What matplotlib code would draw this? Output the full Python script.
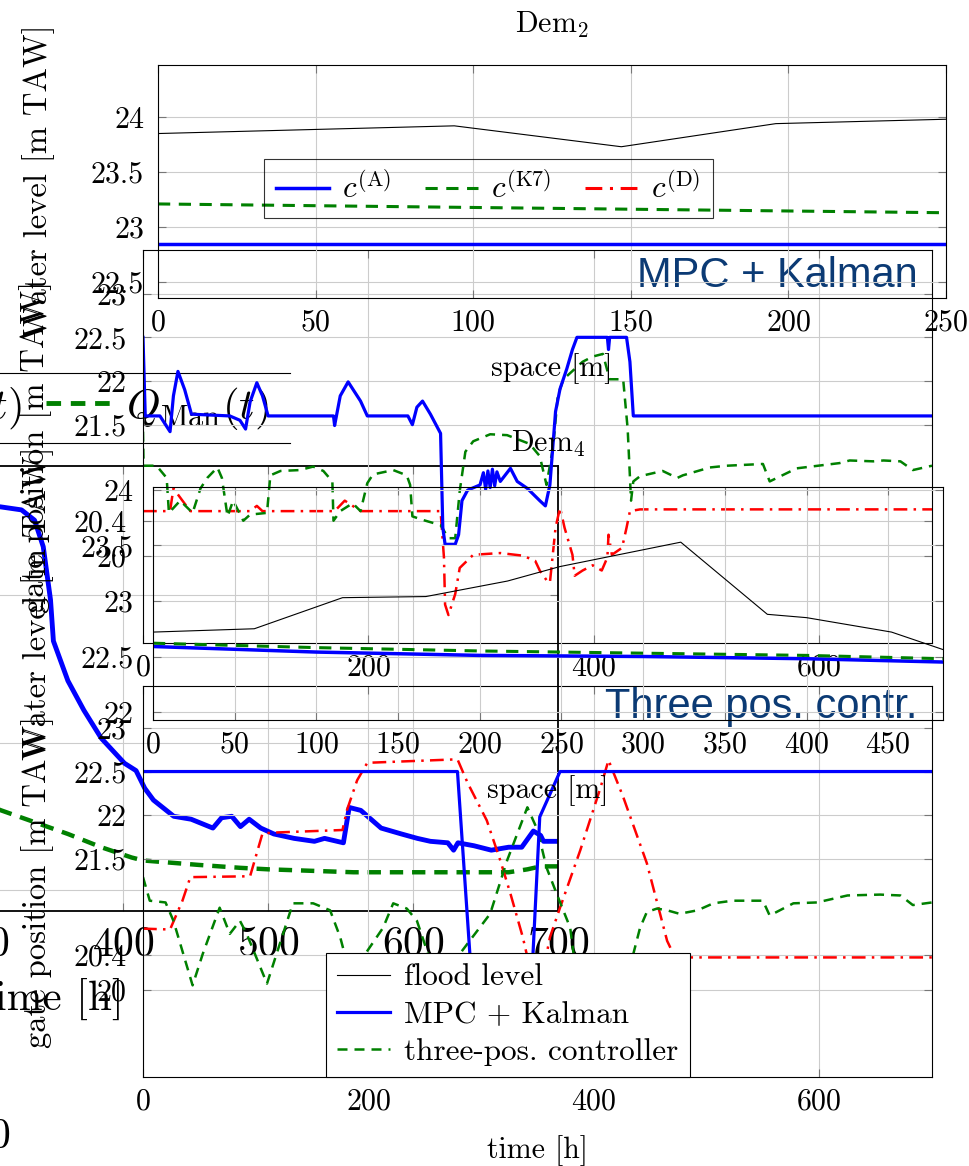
import matplotlib
matplotlib.use('Agg')
import matplotlib.pyplot as plt
from matplotlib.lines import Line2D

plt.rcParams['font.family'] = 'serif'
plt.rcParams['font.serif'] = ['cmr10']
plt.rcParams['mathtext.fontset'] = 'cm'
plt.rcParams['axes.formatter.use_mathtext'] = True

# ---- Dem2 (space profile) ----
dem2_s = [0, 94, 147, 196, 250]
dem2_flood = [23.85, 23.92, 23.73, 23.94, 23.98]
dem2_s_c = [0, 125, 250]
dem2_cA = [22.85, 22.85, 22.85]
dem2_cK7 = [23.21, 23.17, 23.13]

# ---- Dem4 (space profile) ----
dem4_s = [0, 62, 116, 167, 217, 249, 323, 376, 400, 452, 484]
dem4_flood = [22.72, 22.75, 23.03, 23.04, 23.18, 23.31, 23.53, 22.88, 22.85, 22.72, 22.56]
dem4_s_c = [0, 100, 200, 300, 400, 484]
dem4_cA = [22.59, 22.54, 22.51, 22.50, 22.48, 22.45]
dem4_cK7 = [22.62, 22.58, 22.55, 22.53, 22.51, 22.48]

# ---- panel "MPC + Kalman" (time) ----
mpc_t = [0, 2, 15, 24, 27, 31, 37, 43, 77, 86, 91, 95, 101, 106, 111, 169, 170, 175, 182, 193,
         199, 235, 239, 243, 248, 255, 264, 266, 268, 277, 280, 283, 288, 299, 302, 304, 306, 308,
         310, 312, 314, 317, 326, 332, 341, 352, 357, 361, 366, 370, 376, 381, 385, 412, 413, 414,
         429, 432, 435, 700]
mpc_level = [22.5, 21.6, 21.6, 21.42, 21.83, 22.11, 21.9, 21.62, 21.6, 21.55, 21.45, 21.76, 21.98, 21.83, 21.6, 21.6, 21.49, 21.83, 21.99, 21.77,
             21.6, 21.6, 21.5, 21.7, 21.77, 21.62, 21.4, 20.32, 20.13, 20.13, 20.24, 20.63, 20.75, 20.81, 20.95, 20.76, 20.97, 20.78,
             20.99, 20.8, 20.96, 20.85, 21.0, 20.85, 20.77, 20.63, 20.57, 20.81, 21.65, 21.91, 22.14, 22.36, 22.5, 22.5, 22.36, 22.5,
             22.5, 22.22, 21.6, 21.6]
mpc_t3 = [0, 0.5, 12, 21, 23, 33, 44, 51, 57, 66, 70, 75, 80, 89, 95, 110, 113, 122, 139, 151, 160, 168, 169,
          175, 186, 193, 199, 204, 222, 234, 237, 239, 248, 264, 271, 277, 281, 286, 293, 308, 323, 343,
          352, 358, 364, 368, 373, 390, 399, 408, 414, 426, 430, 433, 435, 441, 461, 474, 479, 503, 518,
          550, 556, 580, 618, 627, 648, 657, 672, 683, 700]
mpc_three = [21.42, 21.03, 21.03, 20.89, 20.49, 20.63, 20.49, 20.77, 20.89, 21.01, 20.89, 20.45, 20.63, 20.4, 20.47, 20.49, 20.92, 20.97, 20.98, 21.02, 20.97, 20.85, 20.4,
             20.51, 20.6, 20.51, 20.83, 20.93, 20.98, 20.92, 20.81, 20.45, 20.41, 20.35, 20.2, 20.2, 20.74, 21.19, 21.31, 21.39, 21.38, 21.28,
             21.14, 20.81, 21.26, 21.83, 22.02, 22.22, 22.28, 22.31, 22.02, 22.02, 21.45, 20.63, 20.85, 20.91, 20.97, 20.89, 20.92, 21.01, 21.03,
             21.05, 20.85, 21.0, 21.06, 21.09, 21.08, 21.09, 21.08, 20.98, 21.03]
mpc_tD = [0, 24, 27, 35, 42, 95, 101, 106, 170, 179, 193, 264, 267, 268, 271, 277, 281, 293, 317, 337,
          348, 352, 358, 361, 366, 370, 374, 381, 383, 390, 399, 407, 412, 413, 416, 425, 429, 432, 441, 700]
mpc_D = [20.51, 20.51, 20.77, 20.63, 20.51, 20.51, 20.57, 20.51, 20.51, 20.63, 20.51, 20.51, 19.98, 19.44, 19.32, 19.56, 19.86, 20.01, 20.03, 20.0,
         19.94, 19.83, 19.72, 19.69, 20.32, 20.55, 20.32, 20.01, 19.77, 19.83, 19.89, 19.83, 19.98, 20.24, 20.01, 20.09, 20.32, 20.51, 20.53, 20.53]

# ---- panel "Three pos. contr." (time) ----
tp_t = [0, 279, 290, 296, 339, 346, 352, 370, 700]
tp_level = [22.5, 22.5, 20.41, 19.3, 19.3, 20.41, 21.98, 22.5, 22.5]
tp_t3 = [0, 6, 20, 27, 44, 53, 68, 77, 86, 92, 110, 128, 133, 151, 166, 175, 184, 213, 222, 234, 243, 255,
         268, 281, 308, 323, 341, 350, 358, 367, 379, 382, 405, 435, 441, 447, 456, 465, 476, 492, 506, 523,
         550, 556, 577, 598, 625, 654, 672, 683, 700]
tp_three = [21.29, 21.02, 21.0, 20.79, 20.05, 20.41, 20.94, 20.64, 20.79, 20.64, 20.07, 20.79, 20.99, 20.99, 20.91, 20.6, 20.16, 20.71, 20.99, 20.93, 20.79, 20.33,
            20.1, 20.41, 20.87, 21.48, 22.09, 21.83, 21.4, 21.1, 20.71, 20.41, 19.87, 20.41, 20.71, 20.89, 20.93, 20.91, 20.87, 20.91, 20.99, 21.02,
            21.02, 20.85, 20.99, 21.0, 21.08, 21.09, 21.08, 20.97, 21.0]
tp_tD = [0, 24, 35, 42, 95, 106, 115, 177, 181, 190, 199, 279, 288, 305, 317, 326, 337, 350, 361, 370,
         388, 406, 413, 426, 447, 465, 472, 700]
tp_D = [20.7, 20.69, 21.02, 21.29, 21.3, 21.79, 21.8, 21.83, 22.06, 22.4, 22.6, 22.64, 22.37, 21.94, 21.48, 21.1, 20.6, 19.87, 20.6, 20.94,
        21.6, 22.32, 22.63, 22.21, 21.45, 20.56, 20.37, 20.37]

# ---- large background figure (time) ----
big_t = [300, 316, 330, 339, 345, 350, 352, 362, 373, 385, 401, 409, 415, 421, 435, 447, 462, 468, 475, 481,
         487, 495, 504, 518, 532, 539, 552, 556, 564, 578, 592, 603, 612, 624, 628, 631, 642, 654, 666, 675,
         683, 688, 690, 700]
big_mpc = [23.62, 23.6, 23.58, 23.51, 23.33, 22.97, 22.69, 22.42, 22.22, 22.03, 21.86, 21.81, 21.69, 21.61, 21.5, 21.48, 21.42, 21.49, 21.5, 21.43,
           21.48, 21.42, 21.38, 21.35, 21.33, 21.35, 21.32, 21.56, 21.54, 21.42, 21.38, 21.35, 21.33, 21.32, 21.27, 21.32, 21.3, 21.27, 21.29, 21.29,
           21.4, 21.37, 21.33, 21.33]
big_t3 = [300, 316, 339, 362, 385, 406, 414, 452, 481, 500, 559, 642, 666, 679, 688, 700]
big_three = [21.6, 21.54, 21.46, 21.38, 21.29, 21.22, 21.2, 21.17, 21.15, 21.14, 21.12, 21.12, 21.12, 21.14, 21.16, 21.16]

lvl_ticks = [20, 20.4, 21.5, 22, 22.5, 23]
lvl_labels = ['20', '20.4', '21.5', '22', '22.5', '23']
time_ticks = [0, 200, 400, 600]
q_labels = [r'$Q_{\mathrm{K7}}(t)$', r'$Q_{\mathrm{Man}}(t)$']
c_labels = [r'$c^{(\mathrm{A})}$', r'$c^{(\mathrm{K7})}$', r'$c^{(\mathrm{D})}$']
leg_labels = ['flood level', 'MPC + Kalman', 'three-pos. controller']

W, H = 970, 1166
FS = 21.5
YL = 23.5
BLUE, GREEN, RED = '#0000ff', '#008000', '#ff0000'
DASH = (0, (4, 2.8))
DASHDOT = (0, (5.5, 2.5, 1, 2.5))
NAVY = '#0b3a74'

fig = plt.figure(figsize=(W / 100, H / 100), dpi=100)


def box(l, t, r, b, z):
    # axes placed by pixel edges of the 970x1166 canvas
    ax = fig.add_axes([l / W, 1 - b / H, (r - l) / W, (b - t) / H])
    ax.set_zorder(z)
    ax.set_facecolor('none')
    return ax


def style(ax, fs=FS, xpad=8, ypad=10):
    ax.grid(True, color='#cccccc', lw=0.8)
    ax.set_axisbelow(True)
    ax.tick_params(direction='in', length=6, width=0.8, color='#777777', top=True, right=True,
                   labelsize=fs)
    ax.tick_params(axis='x', pad=xpad)
    ax.tick_params(axis='y', pad=ypad)


# background figure, mostly outside the canvas
ax_a = box(-457, 466, 558, 911, 1)
ax_a.plot(big_t, big_mpc, color=BLUE, lw=3.5)
ax_a.plot(big_t3, big_three, color=GREEN, lw=3.2, ls=(0, (3, 2)))
ax_a.set_xlim(0, 700)
ax_a.set_ylim(20.857, 23.878)
ax_a.set_xticks(range(0, 701, 100))
ax_a.set_yticks([21, 22, 23])
style(ax_a, fs=30, xpad=11)
ax_a.set_xlabel('time [h]', fontsize=31, labelpad=10)
for sp in ax_a.spines.values():
    sp.set_linewidth(1.3)

# legend strip of the flow figure
ax_q = box(-300, 373, 290, 443, 1)
ax_q.set_xticks([])
ax_q.set_yticks([])
ax_q.spines['left'].set_visible(False)
ax_q.spines['right'].set_visible(False)
q_handles = [Line2D([], [], color=BLUE, lw=3.5), Line2D([], [], color=GREEN, lw=3.5, ls=(0, (3, 2)))]
ax_q.legend(q_handles, q_labels, ncol=2, loc='center right', bbox_to_anchor=(1, 0.5), frameon=False,
            fontsize=31, handlelength=1.5, handletextpad=0.35, columnspacing=0.55, borderaxespad=0.1)

# MPC + Kalman panel
ax_b = box(143, 250, 932, 643, 2)
ax_b.plot(mpc_tD, mpc_D, color=RED, lw=1.8, ls=DASHDOT)
ax_b.plot(mpc_t3, mpc_three, color=GREEN, lw=1.8, ls=DASH)
ax_b.plot(mpc_t, mpc_level, color=BLUE, lw=2.3)
ax_b.set_xlim(0, 700)
ax_b.set_ylim(19.0, 23.5)
ax_b.set_xticks(time_ticks)
ax_b.set_yticks(lvl_ticks)
ax_b.set_yticklabels(lvl_labels)
style(ax_b, ypad=12)
ax_b.set_ylabel('gate position [m TAW]', fontsize=YL)
ax_b.yaxis.set_label_coords((52 - 143) / 789, 0.5)
ax_b.text(0.982, 0.934, 'MPC + Kalman', transform=ax_b.transAxes, ha='right', va='center',
          fontsize=30, color=NAVY, family=['Liberation Sans', 'DejaVu Sans'])

# Three pos. panel
ax_c = box(143, 686, 932, 1077, 2)
ax_c.plot(tp_tD, tp_D, color=RED, lw=1.8, ls=DASHDOT)
ax_c.plot(tp_t3, tp_three, color=GREEN, lw=1.8, ls=DASH)
ax_c.plot(tp_t, tp_level, color=BLUE, lw=2.3)
ax_c.set_xlim(0, 700)
ax_c.set_ylim(19.0, 23.48)
ax_c.set_xticks(time_ticks)
ax_c.set_yticks(lvl_ticks)
ax_c.set_yticklabels(lvl_labels)
style(ax_c, ypad=12)
ax_c.set_xlabel('time [h]', fontsize=FS, labelpad=14)
ax_c.set_ylabel('gate position [m TAW]', fontsize=YL)
ax_c.yaxis.set_label_coords((54 - 143) / 789, 0.5)
ax_c.text(0.982, 0.946, 'Three pos. contr.', transform=ax_c.transAxes, ha='right', va='center',
          fontsize=30, color=NAVY, family=['Liberation Sans', 'DejaVu Sans'])
c_handles = [Line2D([], [], color='black', lw=0.8), Line2D([], [], color=BLUE, lw=2.3),
             Line2D([], [], color=GREEN, lw=1.8, ls=DASH)]
leg = ax_c.legend(c_handles, leg_labels, loc='lower center', bbox_to_anchor=(0.4626, 0), borderaxespad=0,
                  fontsize=22.5, fancybox=False, edgecolor='black', framealpha=1, handlelength=1.7,
                  labelspacing=0.3, borderpad=0.35, handletextpad=0.45)
leg.get_frame().set_linewidth(0.8)

# Dem4 profile
ax_d4 = box(153, 487, 943, 720, 3)
ax_d4.plot(dem4_s, dem4_flood, color='black', lw=0.8)
ax_d4.plot(dem4_s_c, dem4_cA, color=BLUE, lw=2.5)
ax_d4.plot(dem4_s_c, dem4_cK7, color=GREEN, lw=2.2, ls=DASH)
ax_d4.set_xlim(0, 483.5)
ax_d4.set_ylim(21.928, 24.027)
ax_d4.set_xticks(range(0, 451, 50))
ax_d4.set_yticks([22, 22.5, 23, 23.5, 24])
ax_d4.set_yticklabels(['22', '22.5', '23', '23.5', '24'])
style(ax_d4, ypad=14)
ax_d4.set_title(r'Dem$_4$', fontsize=FS, pad=25)
ax_d4.set_xlabel('space [m]', fontsize=FS, labelpad=12)
ax_d4.set_ylabel('Water level [m TAW]', fontsize=YL)
ax_d4.yaxis.set_label_coords((54 - 153) / 790, 0.5)

# Dem2 profile
ax_d2 = box(158, 65, 946, 298, 3)
ax_d2.plot(dem2_s, dem2_flood, color='black', lw=0.8)
ax_d2.plot(dem2_s_c, dem2_cA, color=BLUE, lw=2.5, label=c_labels[0])
ax_d2.plot(dem2_s_c, dem2_cK7, color=GREEN, lw=2.2, ls=DASH, label=c_labels[1])
ax_d2.plot([], [], color=RED, lw=2.2, ls=DASHDOT, label=c_labels[2])
ax_d2.set_xlim(0, 250)
ax_d2.set_ylim(22.355, 24.473)
ax_d2.set_xticks(range(0, 251, 50))
ax_d2.set_yticks([22.5, 23, 23.5, 24])
ax_d2.set_yticklabels(['22.5', '23', '23.5', '24'])
style(ax_d2, ypad=10)
ax_d2.set_title(r'Dem$_2$', fontsize=FS, pad=23)
ax_d2.set_xlabel('space [m]', fontsize=FS, labelpad=12)
ax_d2.set_ylabel('Water level [m TAW]', fontsize=YL)
ax_d2.yaxis.set_label_coords((55 - 158) / 788, 0.5)
leg2 = ax_d2.legend(loc='center', bbox_to_anchor=(0.419, 0.47), ncol=3, fontsize=22.5, fancybox=False,
                    edgecolor='black', facecolor='none', handlelength=1.7, columnspacing=1.1,
                    borderpad=0.4, handletextpad=0.4)
leg2.get_frame().set_linewidth(0.8)

# stray tick label from an underlying figure
fig.text(10 / W, 1 - 1137 / H, '0', ha='right', va='center', fontsize=30)

fig.savefig('out.png', dpi=100)
